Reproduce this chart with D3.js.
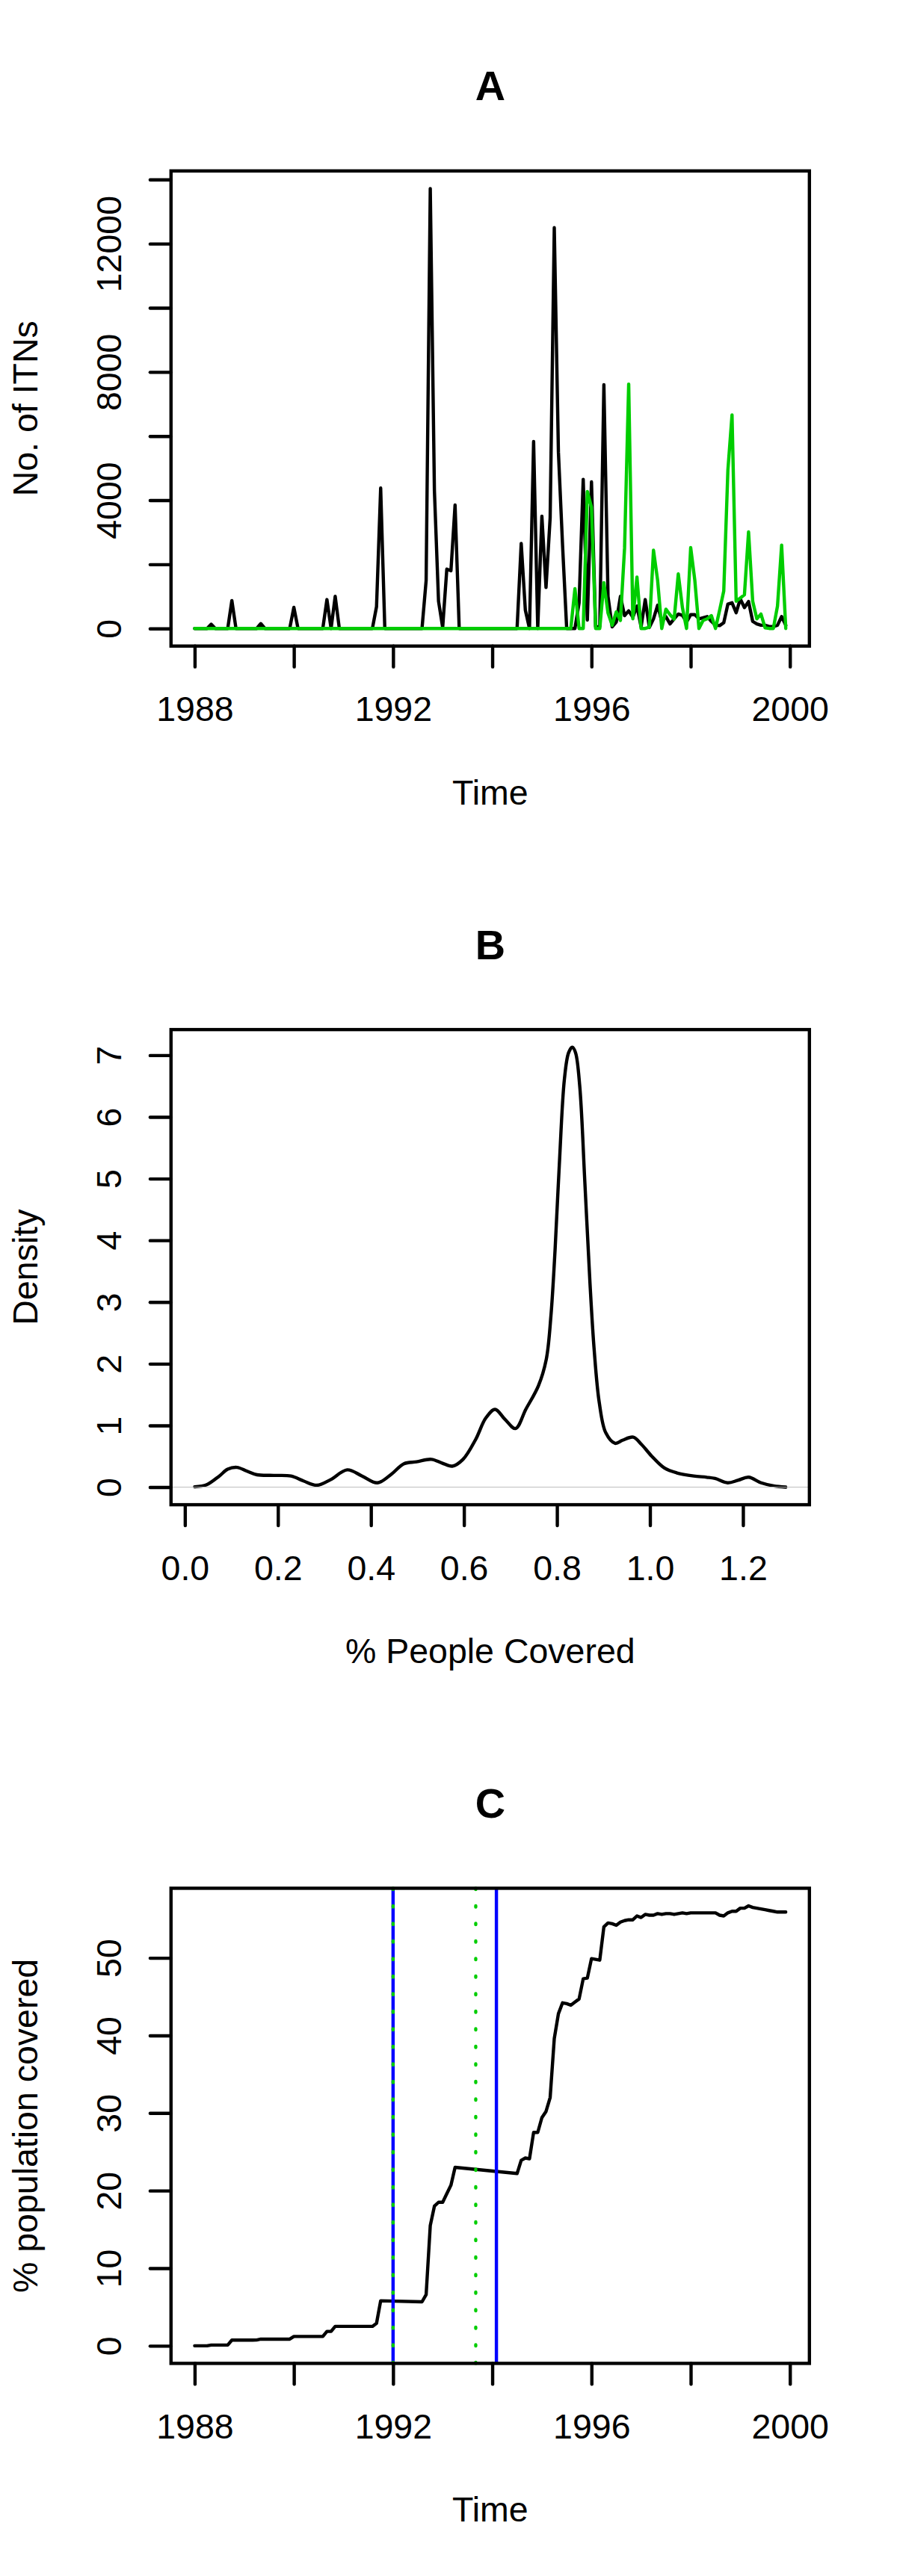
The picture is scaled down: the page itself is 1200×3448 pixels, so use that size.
<!DOCTYPE html>
<html>
<head>
<meta charset="utf-8">
<script src="https://cdn.jsdelivr.net/npm/d3@7"></script>
<style>
  body { margin: 0; background: #fff; }
  svg text { font-family: "Liberation Sans", Arial, Helvetica, sans-serif; }
</style>
</head>
<body>
<svg id="fig" width="1200" height="3448"></svg>
<script>
// monthly series start in Jan 1988
const startYear = 1988;

// panel A: number of ITNs per month (one row per year)
const itnBlack = [
  0, 0, 0, 0, 130, 0, 0, 0, 0, 870, 0, 0,
  0, 0, 0, 0, 150, 0, 0, 0, 0, 0, 0, 0,
  660, 0, 0, 0, 0, 0, 0, 0, 900, 0, 1000, 0,
  0, 0, 0, 0, 0, 0, 0, 0, 680, 4380, 0, 0,
  0, 0, 0, 0, 0, 0, 0, 0, 1500, 13720, 4300, 850,
  30, 1850, 1800, 3850, 0, 0, 0, 0, 0, 0, 0, 0,
  0, 0, 0, 0, 0, 0, 0, 2650, 570, 0, 5830, 0,
  3500, 1280, 3450, 12500, 5500, 2600, 0, 0, 0, 800, 4650, 260,
  4570, 50, 50, 7600, 1000, 50, 200, 1000, 400, 550, 350, 700,
  50, 900, 30, 300, 725, 220, 370, 140, 300, 450, 410, 200,
  430, 430, 300, 335, 370, 220, 100, 90, 180, 760, 800, 490,
  920, 650, 840, 220, 140, 100, 100, 60, 60, 100, 370, 100,
];
const itnGreen = [
  0, 0, 0, 0, 0, 0, 0, 0, 0, 0, 0, 0,
  0, 0, 0, 0, 0, 0, 0, 0, 0, 0, 0, 0,
  0, 0, 0, 0, 0, 0, 0, 0, 0, 0, 0, 0,
  0, 0, 0, 0, 0, 0, 0, 0, 0, 0, 0, 0,
  0, 0, 0, 0, 0, 0, 0, 0, 0, 0, 0, 0,
  0, 0, 0, 0, 0, 0, 0, 0, 0, 0, 0, 0,
  0, 0, 0, 0, 0, 0, 0, 0, 0, 0, 0, 0,
  0, 0, 0, 0, 0, 0, 0, 0, 1240, 0, 0, 4270,
  3780, 0, 0, 1425, 480, 100, 520, 250, 2500, 7620, 300, 1600,
  0, 0, 40, 2440, 1500, 0, 600, 430, 290, 1700, 650, 0,
  2520, 1500, 0, 250, 300, 400, 0, 570, 1170, 4940, 6660, 850,
  950, 1050, 3010, 850, 300, 450, 20, 0, 0, 700, 2600, 0,
];
const timeTicks = [1988, 1990, 1992, 1994, 1996, 1998, 2000];
const timeLabels = [1988, 1992, 1996, 2000];
const itnTicks = [0, 2000, 4000, 6000, 8000, 10000, 12000, 14000];
const itnLabels = [0, 4000, 8000, 12000];

// panel B: density of % people covered
const densityX = [0.021, 0.047, 0.074, 0.092, 0.112, 0.133, 0.155, 0.191, 0.228, 0.255,
  0.284, 0.313, 0.349, 0.381, 0.414, 0.444, 0.471, 0.498, 0.530, 0.553,
  0.575, 0.598, 0.625, 0.647, 0.667, 0.688, 0.711, 0.733, 0.760, 0.777,
  0.787, 0.796, 0.805, 0.816, 0.825, 0.833, 0.840, 0.849, 0.860, 0.871,
  0.880, 0.891, 0.905, 0.925, 0.941, 0.964, 0.982, 1.004, 1.031, 1.058,
  1.094, 1.122, 1.140, 1.167, 1.189, 1.212, 1.239, 1.266, 1.292];
const densityY = [0.005, 0.04, 0.18, 0.29, 0.32, 0.26, 0.20, 0.19, 0.18, 0.10,
  0.03, 0.12, 0.28, 0.18, 0.07, 0.21, 0.38, 0.41, 0.45, 0.39,
  0.34, 0.45, 0.77, 1.12, 1.26, 1.10, 0.95, 1.26, 1.64, 2.07,
  2.77, 3.85, 5.21, 6.61, 7.04, 7.13, 7.04, 6.50, 4.94, 3.31,
  2.23, 1.37, 0.88, 0.71, 0.76, 0.81, 0.69, 0.50, 0.31, 0.23,
  0.18, 0.16, 0.14, 0.07, 0.11, 0.16, 0.07, 0.02, 0.00];
const coveredTicks = [0, 0.2, 0.4, 0.6, 0.8, 1.0, 1.2];
const densityTicks = [0, 1, 2, 3, 4, 5, 6, 7];

// panel C: % population covered (months since Jan 1988)
const covMonths = [0, 1, 2, 3, 4, 5, 6, 7, 8, 9, 10, 11,
  12, 13, 14, 15, 16, 17, 18, 19, 20, 21, 22, 23,
  24, 25, 26, 27, 28, 29, 30, 31, 32, 33, 34, 35,
  36, 37, 38, 39, 40, 41, 42, 43, 44, 45, 55,
  56, 57, 58, 59, 60, 61, 62, 63, 78,
  79, 80, 81, 82, 83, 84, 85, 86, 87, 88, 89, 90, 91, 92, 93, 94, 95,
  96, 97, 98, 99, 100, 101, 102, 103, 104, 105, 106, 107,
  108, 109, 110, 111, 112, 113, 114, 115, 116, 117, 118, 119,
  120, 121, 122, 123, 124, 125, 126, 127, 128, 129, 130, 131,
  132, 133, 134, 135, 136, 137, 138, 139, 140, 141, 142, 143];
const covValues = [0, 0, 0, 0, 0.1, 0.1, 0.1, 0.1, 0.1, 0.73, 0.73, 0.73,
  0.73, 0.73, 0.73, 0.75, 0.86, 0.86, 0.86, 0.86, 0.86, 0.86, 0.86, 0.86,
  1.2, 1.2, 1.2, 1.2, 1.2, 1.2, 1.2, 1.2, 1.85, 1.85, 2.5, 2.5,
  2.5, 2.5, 2.5, 2.5, 2.5, 2.5, 2.5, 2.5, 2.9, 5.8, 5.67,
  6.6, 15.5, 18.0, 18.5, 18.5, 19.6, 20.7, 23.0, 22.2,
  23.9, 24.2, 24.1, 27.5, 27.5, 29.4, 30.2, 32.0, 39.6, 42.8, 44.2, 44.1, 43.9, 44.3, 44.7, 47.3, 47.4,
  49.9, 49.8, 49.7, 54.0, 54.5, 54.4, 54.2, 54.6, 54.8, 54.9, 54.9, 55.4,
  55.2, 55.6, 55.5, 55.5, 55.7, 55.6, 55.7, 55.7, 55.6, 55.7, 55.8, 55.7,
  55.8, 55.8, 55.8, 55.8, 55.8, 55.8, 55.8, 55.5, 55.4, 55.8, 56.0, 56.0,
  56.4, 56.4, 56.7, 56.5, 56.4, 56.3, 56.2, 56.1, 56.0, 55.9, 55.9, 55.9];
const covTicks = [0, 10, 20, 30, 40, 50];
const blueLines = [1992, 1994 + 1 / 12];
const greenLines = [1992, 1993 + 8 / 12];

// ---- layout, R style: mfrow = c(3,1), default margins
const svg = d3.select("#fig");
const panelH = 3448 / 3;
const lineH = 55.8;
const fontSize = 46.5;
const lw = 4.4;
const plotLeft = 4.1 * lineH, plotRight = 1200 - 2.1 * lineH;
const plotTop = 4.1 * lineH, plotBottom = panelH - 5.1 * lineH;
const green = "#00CD00";
const fontFam = '"Liberation Sans", Arial, Helvetica, sans-serif';

svg.append("rect").attr("width", 1200).attr("height", 3448).attr("fill", "#fff");

// R's 4% range extension
const rRange = (ext) => {
  const d = (ext[1] - ext[0]) * 0.04;
  return [ext[0] - d, ext[1] + d];
};

const drawFrame = (g, x, y, o) => {
  // bottom axis
  g.append("g")
    .attr("transform", `translate(0,${plotBottom})`)
    .call(d3.axisBottom(x).tickValues(o.xTicks).tickSize(lineH / 2).tickSizeOuter(0)
      .tickFormat((d) => (o.xLabels.includes(d) ? o.xFmt(d) : "")))
    .call((a) => a.select(".domain").remove())
    .call((a) => a.selectAll("line").attr("stroke", "#000").attr("stroke-width", lw).attr("stroke-linecap", "round"))
    .call((a) => a.selectAll("text").attr("y", 1.8 * lineH).attr("dy", null)
      .attr("fill", "#000").attr("font-size", fontSize).attr("font-family", fontFam));

  // left axis, labels parallel to the axis
  g.append("g")
    .attr("transform", `translate(${plotLeft},0)`)
    .call(d3.axisLeft(y).tickValues(o.yTicks).tickSize(lineH / 2).tickSizeOuter(0)
      .tickFormat((d) => (o.yLabels.includes(d) ? String(d) : "")))
    .call((a) => a.select(".domain").remove())
    .call((a) => a.selectAll("line").attr("stroke", "#000").attr("stroke-width", lw).attr("stroke-linecap", "round"))
    .call((a) => a.selectAll("text").attr("x", null).attr("dy", null)
      .attr("text-anchor", "middle")
      .attr("transform", `translate(${-1.2 * lineH},0) rotate(-90)`)
      .attr("fill", "#000").attr("font-size", fontSize).attr("font-family", fontFam));

  // box
  g.append("rect")
    .attr("x", plotLeft).attr("y", plotTop)
    .attr("width", plotRight - plotLeft).attr("height", plotBottom - plotTop)
    .attr("fill", "none").attr("stroke", "#000").attr("stroke-width", lw);

  // title and axis titles
  g.append("text")
    .attr("x", (plotLeft + plotRight) / 2).attr("y", plotTop - 2.05 * lineH + 20)
    .attr("text-anchor", "middle").attr("font-size", 1.2 * fontSize).attr("font-weight", "bold")
    .text(o.title);
  g.append("text")
    .attr("x", (plotLeft + plotRight) / 2).attr("y", plotBottom + 3.8 * lineH)
    .attr("text-anchor", "middle").attr("font-size", fontSize)
    .text(o.xTitle);
  g.append("text")
    .attr("transform", `translate(${plotLeft - 3.2 * lineH},${(plotTop + plotBottom) / 2}) rotate(-90)`)
    .attr("text-anchor", "middle").attr("font-size", fontSize)
    .text(o.yTitle);
};

const pathStyle = (p, col) =>
  p.attr("fill", "none").attr("stroke", col).attr("stroke-width", lw)
    .attr("stroke-linejoin", "round").attr("stroke-linecap", "round");

// ---- A
{
  const g = svg.append("g");
  const t = (i) => startYear + i / 12;
  const x = d3.scaleLinear().domain(rRange([t(0), t(itnBlack.length - 1)])).range([plotLeft, plotRight]);
  const y = d3.scaleLinear()
    .domain(rRange([0, d3.max([...itnBlack, ...itnGreen])]))
    .range([plotBottom, plotTop]);
  const line = d3.line().x((d, i) => x(t(i))).y((d) => y(d));
  g.append("path").datum(itnBlack).attr("d", line).call(pathStyle, "#000");
  g.append("path").datum(itnGreen).attr("d", line).call(pathStyle, green);
  drawFrame(g, x, y, {
    xTicks: timeTicks, xLabels: timeLabels, xFmt: String,
    yTicks: itnTicks, yLabels: itnLabels,
    title: "A", xTitle: "Time", yTitle: "No. of ITNs",
  });
}

// ---- B
{
  const g = svg.append("g").attr("transform", `translate(0,${panelH})`);
  const x = d3.scaleLinear().domain(rRange(d3.extent(densityX))).range([plotLeft, plotRight]);
  const y = d3.scaleLinear().domain(rRange([0, d3.max(densityY)])).range([plotBottom, plotTop]);
  const line = d3.line()
    .x((d, i) => x(densityX[i])).y((d) => y(d))
    .curve(d3.curveCatmullRom.alpha(0.5));
  g.append("path").datum(densityY).attr("d", line).call(pathStyle, "#000");
  g.append("line")
    .attr("x1", plotLeft).attr("x2", plotRight).attr("y1", y(0)).attr("y2", y(0))
    .attr("stroke", "#BEBEBE").attr("stroke-width", 1);
  drawFrame(g, x, y, {
    xTicks: coveredTicks, xLabels: coveredTicks, xFmt: d3.format(".1f"),
    yTicks: densityTicks, yLabels: densityTicks,
    title: "B", xTitle: "% People Covered", yTitle: "Density",
  });
}

// ---- C
{
  const g = svg.append("g").attr("transform", `translate(0,${2 * panelH})`);
  const t = (m) => startYear + m / 12;
  const x = d3.scaleLinear().domain(rRange(d3.extent(covMonths, t))).range([plotLeft, plotRight]);
  const y = d3.scaleLinear().domain(rRange([0, d3.max(covValues)])).range([plotBottom, plotTop]);
  const line = d3.line().x((d, i) => x(t(covMonths[i]))).y((d) => y(d));
  g.append("path").datum(covValues).attr("d", line).call(pathStyle, "#000");

  g.selectAll(".vblue").data(blueLines).enter().append("line")
    .attr("x1", (d) => x(d)).attr("x2", (d) => x(d)).attr("y1", plotTop).attr("y2", plotBottom)
    .attr("stroke", "#0000FF").attr("stroke-width", lw);
  g.selectAll(".vgreen").data(greenLines).enter().append("line")
    .attr("x1", (d) => x(d)).attr("x2", (d) => x(d)).attr("y1", plotTop).attr("y2", plotBottom)
    .attr("stroke", green).attr("stroke-width", lw)
    .attr("stroke-dasharray", "1.5 22").attr("stroke-linecap", "round");

  drawFrame(g, x, y, {
    xTicks: timeTicks, xLabels: timeLabels, xFmt: String,
    yTicks: covTicks, yLabels: covTicks,
    title: "C", xTitle: "Time", yTitle: "% population covered",
  });
}
</script>
</body>
</html>
